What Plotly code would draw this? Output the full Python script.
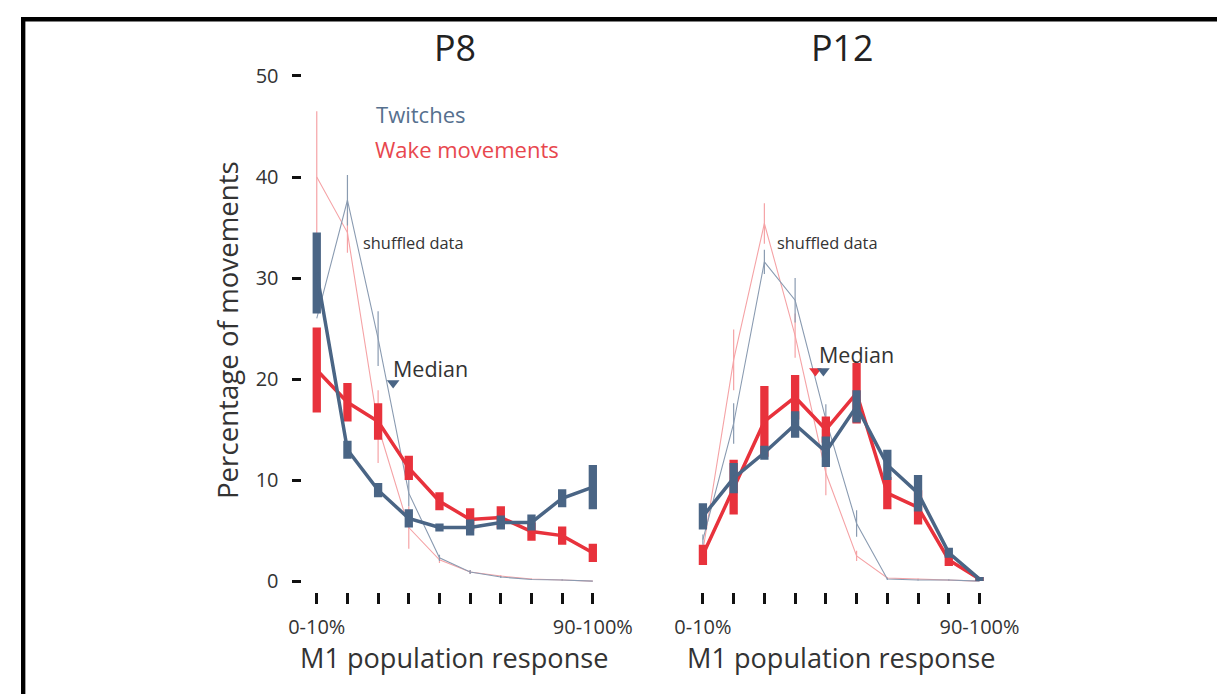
import plotly.graph_objects as go
from plotly.subplots import make_subplots

# figure made a little wider/taller than the page so its right/bottom edge falls outside the photo
W, H = 1250, 700
OFF = 8
# observed mapping from page pixels to photographed pixels (compensated below)
SX, BX = 0.9685, 13.3
SY, BY = 0.984, 9.2
FS = 1.0 / ((SX + SY) / 2)

bins = [1, 2, 3, 4, 5, 6, 7, 8, 9, 10]
tick_text = ["0-10%", "", "", "", "", "", "", "", "", "90-100%"]
y_ticks = [0, 10, 20, 30, 40, 50]

# P8
p8_twitch = [30.5, 13.0, 9.0, 6.2, 5.3, 5.3, 5.8, 5.8, 8.2, 9.3]
p8_twitch_err = [4.0, 0.9, 0.7, 0.9, 0.4, 0.8, 0.7, 0.8, 0.9, 2.2]
p8_wake = [20.9, 17.7, 15.8, 11.2, 7.9, 6.1, 6.3, 4.9, 4.5, 2.8]
p8_wake_err = [4.2, 1.9, 1.8, 1.2, 0.9, 1.1, 1.1, 0.9, 0.9, 0.9]
p8_shuf_twitch = [26.0, 37.7, 24.0, 8.7, 2.3, 0.9, 0.4, 0.15, 0.1, 0.0]
p8_shuf_twitch_err = [0.0, 2.5, 2.7, 1.3, 0.3, 0.2, 0.1, 0.05, 0.05, 0.0]
p8_shuf_wake = [40.0, 34.5, 15.3, 5.3, 2.1, 0.9, 0.5, 0.2, 0.1, 0.0]
p8_shuf_wake_err = [6.5, 2.0, 3.6, 2.1, 0.3, 0.2, 0.1, 0.05, 0.05, 0.0]
p8_median_x = [3.49]
p8_median_y = [19.6]

# P12
p12_twitch = [6.4, 10.2, 12.7, 15.5, 12.8, 17.3, 11.5, 8.7, 2.8, 0.2]
p12_twitch_err = [1.3, 1.5, 0.7, 1.3, 1.5, 1.6, 1.5, 1.8, 0.5, 0.2]
p12_wake = [2.6, 9.3, 15.8, 18.2, 15.0, 18.6, 8.7, 7.3, 2.1, 0.2]
p12_wake_err = [1.0, 2.7, 3.5, 2.2, 1.3, 3.0, 1.6, 1.7, 0.6, 0.2]
p12_shuf_twitch = [4.1, 15.6, 31.6, 27.8, 16.0, 5.7, 0.2, 0.1, 0.1, 0.0]
p12_shuf_twitch_err = [0.5, 2.0, 1.2, 2.2, 1.5, 1.3, 0.1, 0.05, 0.05, 0.0]
p12_shuf_wake = [3.0, 21.9, 35.4, 24.3, 10.7, 2.5, 0.3, 0.2, 0.1, 0.0]
p12_shuf_wake_err = [0.5, 3.0, 2.0, 2.2, 2.2, 0.5, 0.1, 0.05, 0.05, 0.0]
p12_median_x = [4.66, 4.92]
p12_median_y = [20.8, 20.8]

BLUE = "#4a6585"
RED = "#e8323c"
PINK = "#f5a3a6"
GREYBLUE = "#8a9bb1"
TXT = "#333333"
FONT = "Open Sans"
p12_median_colors = [RED, BLUE]

fig = make_subplots(rows=1, cols=2)


def add_panel(col, tw, twe, wk, wke, stw, stwe, swk, swke):
    fig.add_trace(go.Scatter(x=bins, y=swk, mode="lines", line=dict(color=PINK, width=1.1),
                             error_y=dict(type="data", array=swke, color=PINK, thickness=1.2, width=0),
                             showlegend=False, hoverinfo="skip"), row=1, col=col)
    fig.add_trace(go.Scatter(x=bins, y=stw, mode="lines", line=dict(color=GREYBLUE, width=1.1),
                             error_y=dict(type="data", array=stwe, color=GREYBLUE, thickness=1.2, width=0),
                             showlegend=False, hoverinfo="skip"), row=1, col=col)
    fig.add_trace(go.Scatter(x=bins, y=wk, mode="lines", line=dict(color=RED, width=3.5),
                             error_y=dict(type="data", array=wke, color=RED, thickness=8.3, width=0),
                             showlegend=False), row=1, col=col)
    fig.add_trace(go.Scatter(x=bins, y=tw, mode="lines", line=dict(color=BLUE, width=3.5),
                             error_y=dict(type="data", array=twe, color=BLUE, thickness=8.3, width=0),
                             showlegend=False), row=1, col=col)


add_panel(1, p8_twitch, p8_twitch_err, p8_wake, p8_wake_err,
          p8_shuf_twitch, p8_shuf_twitch_err, p8_shuf_wake, p8_shuf_wake_err)
add_panel(2, p12_twitch, p12_twitch_err, p12_wake, p12_wake_err,
          p12_shuf_twitch, p12_shuf_twitch_err, p12_shuf_wake, p12_shuf_wake_err)

fig.add_trace(go.Scatter(x=p8_median_x, y=p8_median_y, mode="markers",
                         marker=dict(symbol="triangle-down", size=11, color=BLUE),
                         showlegend=False), row=1, col=1)
fig.add_trace(go.Scatter(x=p12_median_x, y=p12_median_y, mode="markers",
                         marker=dict(symbol="triangle-down", size=11, color=p12_median_colors),
                         showlegend=False), row=1, col=2)


def px_x(o):
    page = (o - BX) / SX
    return (page - OFF) / W


def px_y(o):
    page = (o - BY) / SY
    return 1 - (page - OFF) / H


xr = [0.52, 10.45]
yr = [-1.1, 50.5]
ydom = [px_y(592.1), px_y(71)]

xcommon = dict(range=xr, tickvals=bins, ticktext=tick_text, ticks="outside", ticklen=11.3,
               tickwidth=3, tickcolor="#111111", showline=False, showgrid=False, zeroline=False,
               ticklabelstandoff=6, tickfont=dict(family=FONT, size=19.5 * FS, color=TXT))
fig.update_xaxes(**xcommon)
fig.update_layout(
    xaxis=dict(domain=[px_x(302.0), px_x(606.5)]),
    xaxis2=dict(domain=[px_x(688.0), px_x(993.1)]),
    yaxis=dict(domain=ydom, range=yr, tickvals=y_ticks, ticks="outside",
               ticklen=9.5, tickwidth=2.6, tickcolor="#111111", showline=False, showgrid=False,
               zeroline=False, ticklabelstandoff=9,
               tickfont=dict(family=FONT, size=19.5 * FS, color=TXT)),
    yaxis2=dict(domain=ydom, range=yr, showticklabels=False, ticks="", showline=False,
                showgrid=False, zeroline=False),
)

annotations = [
    dict(text="P8", x=455, y=48, size=35, color="#222222"),
    dict(text="P12", x=842, y=48, size=35, color="#222222"),
    dict(text="M1 population response", x=453.5, y=657, size=26.5, color=TXT),
    dict(text="M1 population response", x=841, y=657, size=26.5, color=TXT),
    dict(text="Twitches", x=420.5, y=114, size=21.5, color="#56708e"),
    dict(text="Wake movements", x=466.5, y=149, size=21.5, color="#e8474e"),
    dict(text="shuffled data", x=413.5, y=243, size=16, color=TXT),
    dict(text="shuffled data", x=827.5, y=243, size=16, color=TXT),
    dict(text="Median", x=430, y=368, size=21, color=TXT),
    dict(text="Median", x=856, y=354, size=21, color=TXT),
]
anns = []
for a in annotations:
    anns.append(dict(text=a["text"], x=px_x(a["x"]), y=px_y(a["y"]), xref="paper", yref="paper",
                     xanchor="center", yanchor="middle", showarrow=False,
                     font=dict(family=FONT, size=a["size"] * FS, color=a["color"])))
anns.append(dict(text="Percentage of movements", x=px_x(227), y=px_y(330), xref="paper",
                 yref="paper", xanchor="center", yanchor="middle", showarrow=False,
                 textangle=-90, font=dict(family=FONT, size=27 * FS, color=TXT)))

shapes = [
    dict(type="rect", xref="paper", yref="paper", x0=0, x1=1, y0=1 - 4.5 / H, y1=1,
         fillcolor="#000000", line=dict(width=0)),
    dict(type="rect", xref="paper", yref="paper", x0=0, x1=4.5 / W, y0=0, y1=1,
         fillcolor="#000000", line=dict(width=0)),
]

fig.update_layout(width=W, height=H, margin=dict(l=0, r=0, t=0, b=0),
                  paper_bgcolor="white", plot_bgcolor="white",
                  annotations=anns, shapes=shapes, showlegend=False)

fig.write_html("out.html")
